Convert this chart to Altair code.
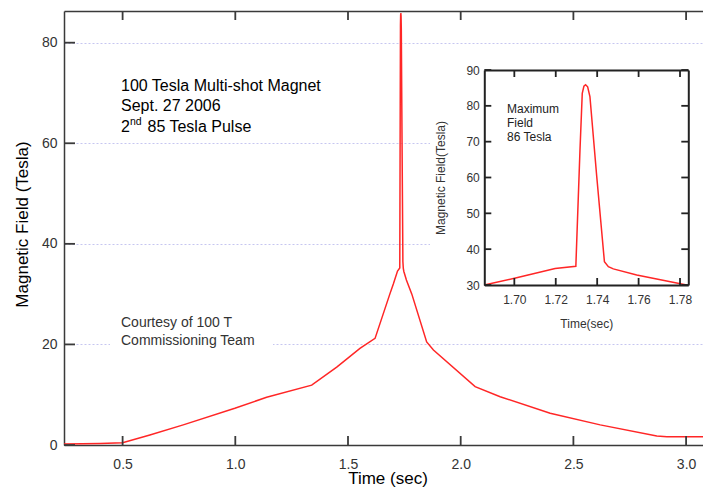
import altair as alt
import pandas as pd

# ---- data ----
time_s = [0.24, 0.40, 0.50, 0.621, 0.769, 0.998, 1.139, 1.339, 1.45, 1.553, 1.620,
          1.6855, 1.7011, 1.7197, 1.7297, 1.7317, 1.7328, 1.7336, 1.7344, 1.7354,
          1.7365, 1.7398, 1.7435, 1.7454, 1.7478, 1.7591, 1.7832, 1.849, 1.879,
          2.064, 2.175, 2.397, 2.619, 2.870, 2.915, 3.11]
field_t = [0.2, 0.3, 0.45, 2.0, 4.0, 7.3, 9.5, 11.9, 15.5, 19.2, 21.2,
           30.0, 32.0, 34.6, 35.2, 67.7, 83.5, 85.5, 85.9, 85.3,
           82.6, 60.2, 36.5, 35.1, 34.5, 32.8, 30.0, 20.5, 18.9,
           11.6, 9.6, 6.3, 4.0, 1.8, 1.65, 1.65]

main_x_ticks = [0.5, 1.0, 1.5, 2.0, 2.5, 3.0]
main_y_ticks = [0, 20, 40, 60, 80]
inset_x_ticks = [1.70, 1.72, 1.74, 1.76, 1.78]
inset_y_ticks = [30, 40, 50, 60, 70, 80, 90]

headline_lines = ["100 Tesla Multi-shot Magnet", "Sept. 27 2006"]
pulse_parts = ["2", "nd", "85 Tesla Pulse"]
credit_lines = ["Courtesy of 100 T", "Commissioning Team"]
inset_note = ["Maximum", "Field", "86 Tesla"]

df = pd.DataFrame({"t": time_s, "B": field_t})
mx = pd.DataFrame({"v": main_x_ticks})
my = pd.DataFrame({"v": main_y_ticks})
ix = pd.DataFrame({"v": inset_x_ticks})
iy = pd.DataFrame({"v": inset_y_ticks})

FONT = "Liberation Sans"
W, H = 639, 434
RED = "#ff2626"
AX = "#3a3a3a"
IN = "#222222"

IX0, IX1 = 420.3, 624.3
IY0, IY1 = 274, 59

xs_main = alt.Scale(domain=[0.24, 3.075], nice=False, zero=False)
ys_main = alt.Scale(domain=[0, 86.3], nice=False, zero=False)
xs_in = alt.Scale(domain=[1.6855, 1.784], range=[IX0, IX1], nice=False, zero=False)
ys_in = alt.Scale(domain=[30, 90], range=[IY0, IY1], nice=False, zero=False)

base = alt.Chart(df)
inset_filter = "datum.t >= 1.685 && datum.t <= 1.7845"

grid = base.mark_line(opacity=0).encode(
    x=alt.X("t:Q", scale=xs_main, axis=None),
    y=alt.Y("B:Q", scale=ys_main, axis=alt.Axis(
        orient="left", values=main_y_ticks, grid=True, gridColor="#c6c6f0",
        gridDash=[2, 2], gridWidth=1, domain=False, ticks=False, labels=False,
        title=None)),
)

main = base.mark_line(color=RED, strokeWidth=1.5).encode(
    x=alt.X("t:Q", scale=xs_main, axis=alt.Axis(
        orient="top", offset=-H, values=main_x_ticks, format=".1f",
        tickSize=9, tickOpacity=0, domainColor=AX, domainWidth=1.5,
        labelPadding=-21, labelBaseline="top", labelFontSize=14, labelColor="#333",
        labelFont=FONT, grid=False, title="Time (sec)", titleFont=FONT,
        titleFontSize=17, titleFontWeight="normal", titleColor="#000",
        titleX=W / 2 + 4, titleY=38, titleAlign="center", titleBaseline="alphabetic")),
    y=alt.Y("B:Q", scale=ys_main, axis=alt.Axis(
        orient="right", offset=-W, values=main_y_ticks, format="d",
        tickSize=11, tickOpacity=0, domainColor=AX, domainWidth=1.5,
        labelPadding=-18, labelAlign="right", labelBaseline="middle",
        labelFontSize=14, labelColor="#333", labelFont=FONT, grid=False,
        title="Magnetic Field (Tesla)", titleFont=FONT, titleFontSize=17,
        titleFontWeight="normal", titleColor="#000", titleAngle=270,
        titleX=-42, titleY=H / 2 - 4, titleAlign="center", titleBaseline="middle")),
)

top = base.mark_line(opacity=0).encode(
    x=alt.X("t:Q", scale=xs_main, axis=alt.Axis(
        orient="bottom", offset=-H, values=main_x_ticks, ticks=False,
        domainColor=AX, domainWidth=1.5,
        labels=False, grid=False, title=None)),
    y=alt.Y("B:Q", scale=ys_main, axis=None),
)


def xticks(data, scale, y0, y1, color, width=1.8):
    return alt.Chart(data).mark_rule(color=color, strokeWidth=width).encode(
        x=alt.X("v:Q", scale=scale, axis=None), y=alt.value(y0), y2=alt.value(y1))


def yticks(data, scale, x0, x1, color, width=1.8):
    return alt.Chart(data).mark_rule(color=color, strokeWidth=width).encode(
        y=alt.Y("v:Q", scale=scale, axis=None), x=alt.value(x0), x2=alt.value(x1))


main_ticks = [
    xticks(mx, xs_main, H, H - 9, AX),
    xticks(mx, xs_main, 0, 9, AX),
    yticks(my, ys_main, 0, 11, AX),
]

dummy = pd.DataFrame({"k": [0]})
bg_inset = alt.Chart(dummy).mark_rect(color="white").encode(
    x=alt.value(366), x2=alt.value(W), y=alt.value(39), y2=alt.value(326))
bg_credit = alt.Chart(dummy).mark_rect(color="white").encode(
    x=alt.value(46), x2=alt.value(209), y=alt.value(300), y2=alt.value(342))


def label(txt, x, y, size, color="#000"):
    return alt.Chart(pd.DataFrame({"s": [txt]})).mark_text(
        align="left", baseline="middle", fontSize=size, color=color, font=FONT
    ).encode(x=alt.value(x), y=alt.value(y), text="s:N")


texts = [
    label(headline_lines[0], 57, 75, 16),
    label(headline_lines[1], 57, 95, 16),
    label(pulse_parts[0], 57, 115.5, 16),
    label(pulse_parts[1], 66, 110.5, 10.5),
    label(pulse_parts[2], 83.5, 115.5, 16),
    label(credit_lines[0], 57, 312.3, 14, "#333"),
    label(credit_lines[1], 57, 330, 14, "#333"),
    label(inset_note[0], 443, 98.3, 12, "#222"),
    label(inset_note[1], 443, 111.7, 12, "#222"),
    label(inset_note[2], 443, 126.3, 12, "#222"),
]

inset = base.transform_filter(inset_filter).mark_line(color=RED, strokeWidth=1.5).encode(
    x=alt.X("t:Q", scale=xs_in, axis=alt.Axis(
        orient="top", offset=-IY0, values=inset_x_ticks, format=".2f",
        tickSize=7, tickOpacity=0, domainColor=IN, domainWidth=2,
        labelPadding=-16, labelBaseline="top", labelFontSize=12, labelColor="#333",
        labelFont=FONT, grid=False, title="Time(sec)", titleFont=FONT,
        titleFontSize=12, titleFontWeight="normal", titleColor="#333",
        titleX=(IX0 + IX1) / 2, titleY=38, titleAlign="center",
        titleBaseline="middle", zindex=2)),
    y=alt.Y("B:Q", scale=ys_in, axis=alt.Axis(
        orient="right", offset=-(W - IX0), values=inset_y_ticks, format="d",
        tickSize=7, tickOpacity=0, domainColor=IN, domainWidth=2,
        labelPadding=-12, labelAlign="right", labelBaseline="middle",
        labelFontSize=12, labelColor="#333", labelFont=FONT, grid=False,
        title="Magnetic Field(Tesla)", titleFont=FONT, titleFontSize=12,
        titleFontWeight="normal", titleColor="#333", titleAngle=270,
        titleX=-44.3, titleY=(IY0 + IY1) / 2, titleAlign="center",
        titleBaseline="middle", zindex=2)),
)

inset_m = base.transform_filter(inset_filter).mark_line(opacity=0).encode(
    x=alt.X("t:Q", scale=xs_in, axis=alt.Axis(
        orient="bottom", offset=-(H - IY1), values=inset_x_ticks, ticks=False,
        domainColor=IN, domainWidth=2,
        labels=False, grid=False, title=None, zindex=2)),
    y=alt.Y("B:Q", scale=ys_in, axis=alt.Axis(
        orient="left", offset=-IX1, values=inset_y_ticks, ticks=False,
        domainColor=IN, domainWidth=2,
        labels=False, grid=False, title=None, zindex=2)),
)

inset_ticks = [
    xticks(ix, xs_in, IY0, IY0 - 7, IN),
    xticks(ix, xs_in, IY1, IY1 + 7, IN),
    yticks(iy, ys_in, IX0, IX0 + 7, IN),
    yticks(iy, ys_in, IX1 - 7, IX1, IN),
]

chart = alt.layer(
    grid, main, top, *main_ticks, bg_inset, bg_credit, *texts,
    inset, inset_m, *inset_ticks
).resolve_scale(
    x="independent", y="independent"
).properties(
    width=W, height=H,
    padding={"left": 56, "top": 3, "right": 0, "bottom": 42},
    autosize=alt.AutoSizeParams(type="none"),
    view=alt.ViewBackground(strokeWidth=0),
)

chart.save("out.html", embed_options={"renderer": "svg", "actions": False})
